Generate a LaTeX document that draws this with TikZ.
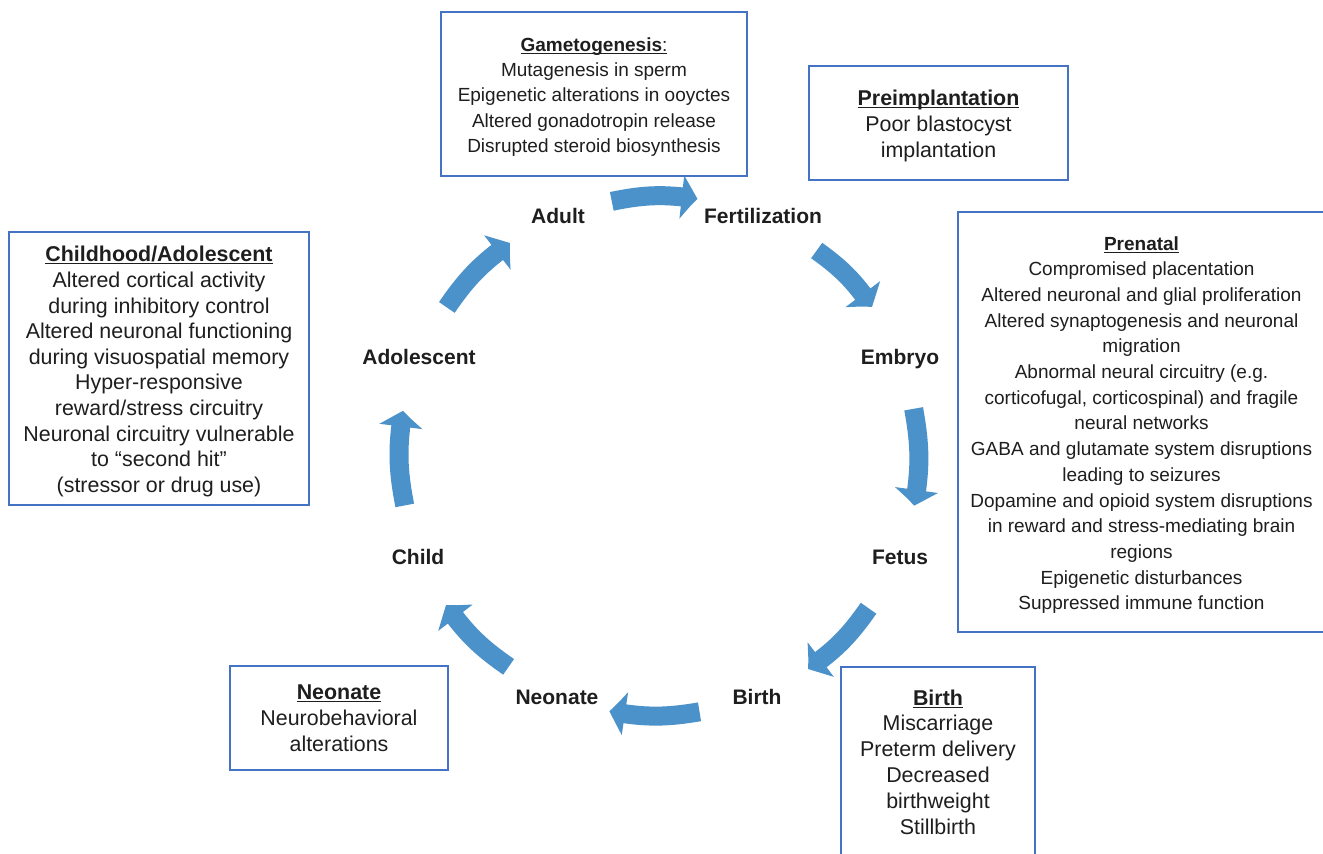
\documentclass[tikz,border=0pt]{standalone}
\usepackage{fontspec}
\setmainfont{Liberation Sans}
\usetikzlibrary{arrows.meta,bending,calc}
\definecolor{flowblue}{RGB}{75,145,202}
\definecolor{framebl}{RGB}{68,114,196}
\definecolor{ink}{RGB}{30,30,30}
% bold heading with an underline just below the baseline
\newsavebox{\hdbox}
\newcommand{\hd}[1]{\sbox{\hdbox}{\bfseries #1}\rlap{\rule[-2.6pt]{\wd\hdbox}{1.1pt}}\usebox{\hdbox}}
\begin{document}
\begin{tikzpicture}[x=1pt,y=-1pt,
  stage/.style={text=ink, font=\fontsize{21}{25}\selectfont\bfseries, inner sep=0pt,
    text height=15pt, text depth=0pt},
  infobox/.style={draw=framebl, line width=1.2pt, inner sep=0pt},
  boxtext/.style={text=ink, align=center, inner sep=0pt},
  smalltxt/.style={font=\fontsize{19}{25.2}\selectfont},
  midtxt/.style={font=\fontsize{19}{25.7}\selectfont},
  largetxt/.style={font=\fontsize{21.4}{25.8}\selectfont},
  tighttxt/.style={font=\fontsize{21.4}{25.6}\selectfont},
  flow/.style={draw=flowblue, line width=19pt, -{Triangle[length=16pt,width=42pt,bend]}}
]
\useasboundingbox[fill=white] (0,0) rectangle (1323,854);
\clip (0,0) rectangle (1323,854);

% life-cycle stages
\coordinate (ctr) at (659,456);
\node[stage] (adult) at (558,216) {Adult};
\node[stage] (fert)  at (763,216) {Fertilization};
\node[stage] (embryo) at (900,357) {Embryo};
\node[stage] (fetus) at (900,557) {Fetus};
\node[stage] (birth) at (757,697) {Birth};
\node[stage] (neonate) at (557,697) {Neonate};
\node[stage] (child) at (418,557) {Child};
\node[stage] (adol) at (419,357) {Adolescent};

% curved block arrows around the cycle
\foreach \i/\a/\b in {1/100.5/81.5, 2/52.5/35, 3/10.5/-11, 4/-36/-55,
                      5/-81/-101, 6/-125.5/-145, 7/191/170, 8/145/125}{
  \coordinate (s\i) at ($(ctr)+(-\a:259)$);
  \coordinate (e\i) at ($(ctr)+(-\b:260)$);
  \draw[flow] (s\i) to[bend left=10] (e\i);
}

% effect boxes and their texts
\node[infobox, minimum width=306pt, minimum height=164pt] (gamBox) at (594,94) {};
\node[boxtext, smalltxt] (gamTxt) at ($(gamBox)+(0,3)$)
  {\hd{Gametogenesis\mdseries:}\\ Mutagenesis in sperm\\ Epigenetic alterations in ooyctes\\
   Altered gonadotropin release\\ Disrupted steroid biosynthesis};

\node[infobox, minimum width=259pt, minimum height=114pt] (preBox) at (938.5,123) {};
\node[boxtext, largetxt] (preTxt) at ($(preBox)+(0,3)$)
  {\hd{Preimplantation}\\ Poor blastocyst\\ implantation};

\node[infobox, minimum width=367pt, minimum height=420pt] (prenBox) at (1141.5,422) {};
\node[boxtext, midtxt] (prenTxt) at ($(prenBox)+(0,3)$)
  {\hd{Prenatal}\\ Compromised placentation\\ Altered neuronal and glial proliferation\\
   Altered synaptogenesis and neuronal\\ migration\\ Abnormal neural circuitry (e.g.\\
   corticofugal, corticospinal) and fragile\\ neural networks\\
   GABA and glutamate system disruptions\\ leading to seizures\\
   Dopamine and opioid system disruptions\\ in reward and stress-mediating brain\\
   regions\\ Epigenetic disturbances\\ Suppressed immune function};

\node[infobox, minimum width=300pt, minimum height=273pt] (childBox) at (159,368.5) {};
\node[boxtext, tighttxt] (childTxt) at ($(childBox)+(0,3)$)
  {\hd{Childhood/Adolescent}\\ Altered cortical activity\\ during inhibitory control\\
   Altered neuronal functioning\\ during visuospatial memory\\ Hyper-responsive\\
   reward/stress circuitry\\ Neuronal circuitry vulnerable\\ to “second hit”\\
   (stressor or drug use)};

\node[infobox, minimum width=218pt, minimum height=104pt] (neoBox) at (339,718) {};
\node[boxtext, largetxt] (neoTxt) at (neoBox)
  {\hd{Neonate}\\ Neurobehavioral\\ alterations};

\node[infobox, minimum width=194pt, minimum height=190pt] (birthBox) at (938,762) {};
\node[boxtext, largetxt] (birthTxt) at (birthBox)
  {\hd{Birth}\\ Miscarriage\\ Preterm delivery\\ Decreased\\ birthweight\\ Stillbirth};
\end{tikzpicture}
\end{document}
